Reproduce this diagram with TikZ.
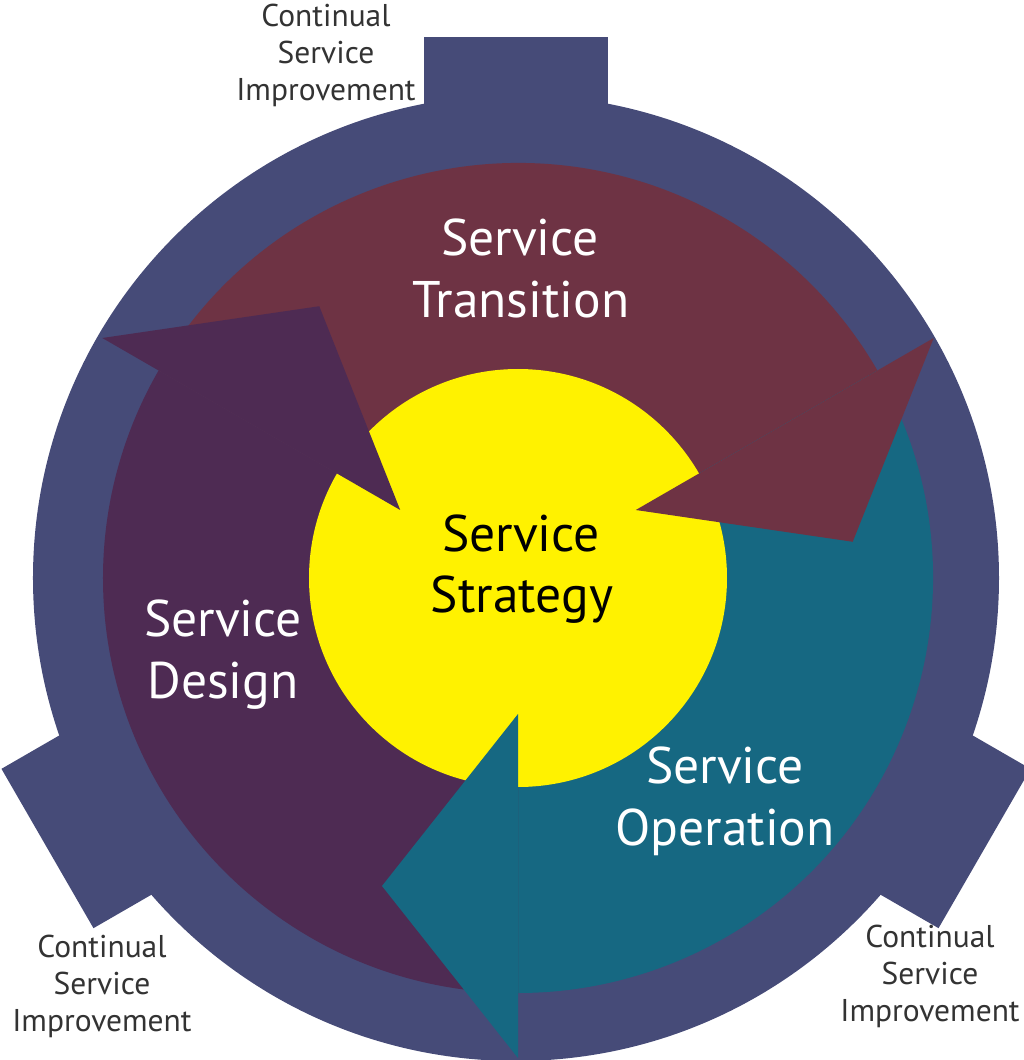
\documentclass[tikz,border=0pt]{standalone}
\usepackage{fontspec}
\setmainfont{PT Sans}
\usetikzlibrary{calc}
\definecolor{ringblue}{HTML}{464B78}
\definecolor{transred}{HTML}{6E3344}
\definecolor{designpurple}{HTML}{4E2B53}
\definecolor{opteal}{HTML}{166882}
\definecolor{stratyellow}{HTML}{FFF200}
\definecolor{csigray}{HTML}{333333}
\begin{document}
\begin{tikzpicture}[x=1pt,y=1pt,
  biglabel/.style={font=\fontsize{51.5}{60}\selectfont, text=white, inner sep=0pt, anchor=base},
  centrelabel/.style={biglabel, text=black},
  smalllabel/.style={font=\fontsize{31.5}{36}\selectfont, text=csigray, inner sep=0pt, anchor=base}]
\useasboundingbox (-518,-482) rectangle (506,578);
% outer ring with three tabs
\begin{scope}[shift={(-2,0)}]
  \foreach \a in {90,210,330} {
    \fill[ringblue, rotate=\a-90] (-92,300) rectangle (92,541);
  }
  \fill[ringblue] (0,0) circle[radius=483];
\end{scope}
% bands
\fill[transred] (150:415) arc[start angle=150,end angle=30,radius=415] -- (30:200) arc[start angle=30,end angle=150,radius=200] -- cycle;
\fill[opteal] (30:415) arc[start angle=30,end angle=-90,radius=415] -- (-90:200) arc[start angle=-90,end angle=30,radius=200] -- cycle;
\fill[designpurple] (270:415) arc[start angle=270,end angle=150,radius=415] -- (150:200) arc[start angle=150,end angle=270,radius=200] -- cycle;
% centre
\fill[stratyellow] (0,0) circle[radius=209];
% arrow heads
\fill[transred] (30:480) -- ($(30:308)+(-60:136)$) -- (30:136) -- cycle;
\fill[designpurple] (150:480) -- ($(150:308)+(60:136)$) -- (150:136) -- cycle;
\fill[opteal] (270:480) -- ($(270:308)+(180:136)$) -- (270:136) -- cycle;
% labels
\node[biglabel] (t1) at (2,322) {Service};
\node[biglabel] (t2) at (3,260) {Transition};
\node[centrelabel] (s1) at (3,27) {Service};
\node[centrelabel] (s2) at (4,-34) {Strategy};
\node[biglabel] (d1) at (-295,-58) {Service};
\node[biglabel] (d2) at (-295,-120) {Design};
\node[biglabel] (o1) at (207,-205) {Service};
\node[biglabel] (o2) at (207,-267) {Operation};
\node[smalllabel] (ca1) at (-192,551) {Continual};
\node[smalllabel] (ca2) at (-192,514) {Service};
\node[smalllabel] (ca3) at (-192,477) {Improvement};
\node[smalllabel] (cb1) at (-416,-379) {Continual};
\node[smalllabel] (cb2) at (-416,-416) {Service};
\node[smalllabel] (cb3) at (-416,-453) {Improvement};
\node[smalllabel] (cc1) at (412,-369) {Continual};
\node[smalllabel] (cc2) at (412,-406) {Service};
\node[smalllabel] (cc3) at (412,-443) {Improvement};
\end{tikzpicture}
\end{document}
